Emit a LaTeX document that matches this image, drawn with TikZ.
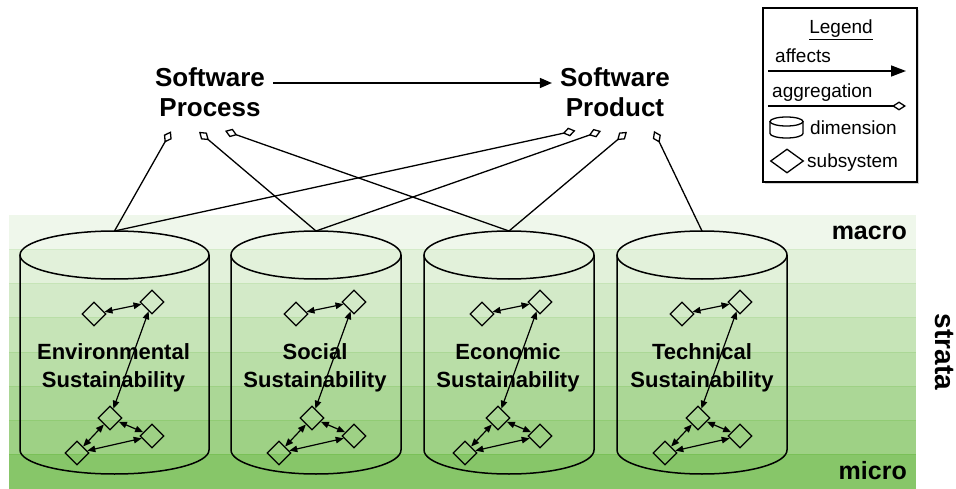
\documentclass[tikz,border=0pt]{standalone}
\usepackage{fontspec}
\setmainfont{Liberation Sans}
\usetikzlibrary{arrows.meta,shapes.geometric,shadows}

\definecolor{band}{RGB}{122,192,88}

\tikzset{
  toplabel/.style={font=\fontsize{26}{30}\selectfont\bfseries, align=center, inner sep=8pt},
  dimtext/.style={font=\fontsize{22}{28}\selectfont\bfseries, align=center, inner sep=0pt},
  stratatext/.style={font=\fontsize{25}{30}\selectfont\bfseries, inner sep=0pt},
  legendtext/.style={font=\fontsize{19}{22}\selectfont, inner sep=0pt},
  legendbox/.style={draw, line width=1.3pt, fill=white, minimum width=154pt, minimum height=174pt,
    drop shadow={shadow xshift=2pt, shadow yshift=-2pt, opacity=.35}},
  dimline/.style={line width=1.5pt},
  subsys/.style={draw, diamond, minimum width=24pt, minimum height=24pt, inner sep=0pt, line width=1.3pt},
  link/.style={line width=1.2pt, arrows={Triangle[length=8pt,width=6.5pt]-Triangle[length=8pt,width=6.5pt]}},
  affects/.style={line width=1.5pt, arrows={-Triangle[length=12pt,width=10pt]}},
  aggregation/.style={line width=1.3pt, arrows={-Diamond[open,length=13pt,width=9pt]}},
}

\begin{document}
\begin{tikzpicture}[x=1pt, y=-1pt]
  \useasboundingbox (0,0) rectangle (956,489);

  % strata bands, macro on top, micro at the bottom
  \foreach \p [count=\i from 0, evaluate=\p as \q using {int(min(\p+10,100))}] in {12,22,33,43,53,63,73,90} {
    \fill[band!\p] (9,215+\i*34.25) rectangle (916,249.25+\i*34.25);
    \ifnum\i>0
      \draw[band!\q, line width=0.8pt] (9,215+\i*34.25) -- (916,215+\i*34.25);
    \fi
  }

  \node[stratatext, anchor=base east] (macro) at (907,239.5) {macro};
  \node[stratatext, anchor=base east] (micro) at (907,479.5) {micro};
  \node[font=\fontsize{28}{30}\selectfont\bfseries, inner sep=0pt, rotate=-90] (strata) at (944,352) {strata};

  % the four dimensions
  \foreach \cx/\rx/\nm in {114.5/94.5/env, 316/85/soc, 509/85/eco, 702/85/tec} {
    \draw[dimline] (\cx-\rx,255) -- (\cx-\rx,450)
      arc[start angle=180, end angle=360, x radius=\rx*1pt, y radius=24pt] -- (\cx+\rx,255);
    \draw[dimline] (\cx,255) ellipse[x radius=\rx*1pt, y radius=24pt];
    \coordinate (\nm-top) at (\cx,231);
  }

  \node[dimtext] (env) at (113.5,368) {Environmental\\Sustainability};
  \node[dimtext] (soc) at (315,368) {Social\\Sustainability};
  \node[dimtext] (eco) at (508,368) {Economic\\Sustainability};
  \node[dimtext] (tec) at (702,368) {Technical\\Sustainability};

  % subsystems in each dimension
  \foreach \nm/\x in {env/94, soc/296, eco/482, tec/682} {
    \node[subsys] (\nm-a) at (\x,314) {};
    \node[subsys] (\nm-b) at (\x+58,302) {};
    \node[subsys] (\nm-c) at (\x+16,418) {};
    \node[subsys] (\nm-d) at (\x+58,436) {};
    \node[subsys] (\nm-e) at (\x-17,453) {};
    \draw[link] (\nm-a) -- (\nm-b);
    \draw[link] (\nm-b) -- (\nm-c);
    \draw[link] (\nm-c) -- (\nm-d);
    \draw[link] (\nm-c) -- (\nm-e);
    \draw[link] (\nm-e) -- (\nm-d);
  }

  % process and product
  \node[toplabel] (proc) at (210,92) {Software\\Process};
  \node[toplabel] (prod) at (615,92) {Software\\Product};
  \draw[affects] ([yshift=9pt]proc.east) -- ([yshift=9pt]prod.west);

  \coordinate (proc-env) at (171,131.3);
  \coordinate (proc-soc) at (199,131.8);
  \coordinate (proc-eco) at (225,130.8);
  \coordinate (prod-env) at (575.4,130.6);
  \coordinate (prod-soc) at (601,131);
  \coordinate (prod-eco) at (627,131.8);
  \coordinate (prod-tec) at (654,131);

  \draw[aggregation] (env-top) -- (proc-env);
  \draw[aggregation] (soc-top) -- (proc-soc);
  \draw[aggregation] (eco-top) -- (proc-eco);
  \draw[aggregation] (env-top) -- (prod-env);
  \draw[aggregation] (soc-top) -- (prod-soc);
  \draw[aggregation] (eco-top) -- (prod-eco);
  \draw[aggregation] (tec-top) -- (prod-tec);

  % legend
  \node[legendbox] (legend) at (840,95) {};
  \node[legendtext, anchor=base] (lg-title) at (841,34) {\underline{Legend}};
  \node[legendtext, anchor=base west] (lg-aff) at (775,63) {affects};
  \coordinate (lg-a1) at (768,71);
  \coordinate (lg-a2) at (906,71);
  \draw[affects, arrows={-Triangle[length=15pt,width=11pt]}] (lg-a1) -- (lg-a2);
  \node[legendtext, anchor=base west] (lg-agg) at (772,98) {aggregation};
  \coordinate (lg-g1) at (768,106);
  \coordinate (lg-g2) at (906,106);
  \draw[aggregation, arrows={-Diamond[open,length=14pt,width=9pt]}] (lg-g1) -- (lg-g2);
  \draw[line width=1.3pt] (770,121.5) -- (770,133.5)
    arc[start angle=180, end angle=360, x radius=16.5pt, y radius=4.5pt] -- (803,121.5);
  \draw[line width=1.3pt] (786.5,121.5) ellipse[x radius=16.5pt, y radius=4.5pt];
  \node[legendtext, anchor=base west] (lg-dim) at (810,135) {dimension};
  \node[subsys, minimum width=33pt, minimum height=24pt] (lg-sub) at (787,161) {};
  \node[legendtext, anchor=base west] (lg-subt) at (807,168) {subsystem};
\end{tikzpicture}
\end{document}
